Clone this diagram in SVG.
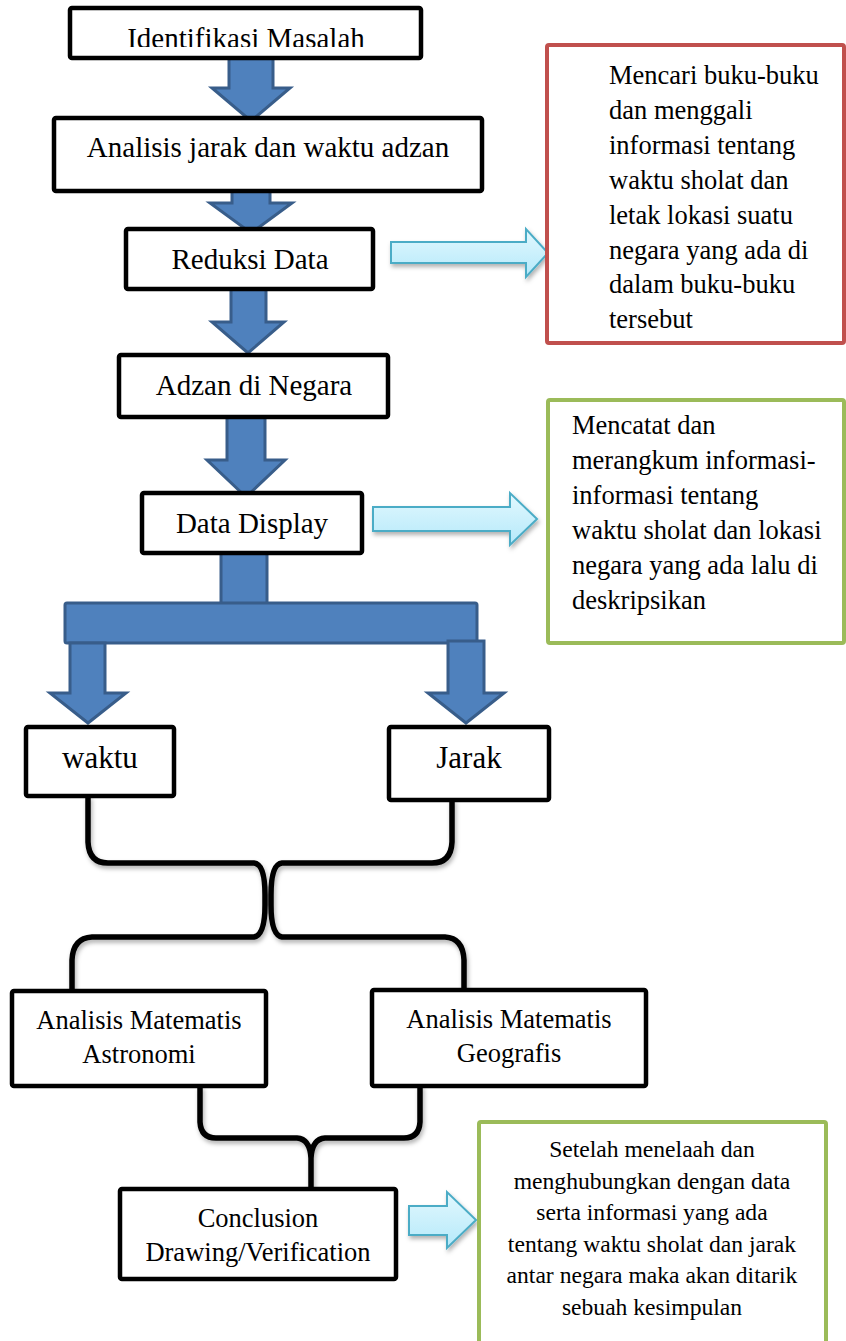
<svg xmlns="http://www.w3.org/2000/svg" width="846" height="1341" viewBox="0 0 846 1341">
<style>
text{font-family:"Liberation Serif","Times New Roman",serif;fill:#000}
.box{fill:#fff;stroke:#000;stroke-width:4.5}
.t29{font-size:29px;text-anchor:middle}
.t31{font-size:31px;text-anchor:middle}
.t26{font-size:26.5px;text-anchor:middle}
.n26{font-size:26.5px}
.t23{font-size:23.6px;text-anchor:middle}
.blk{fill:#4F81BD;stroke:#385D8A;stroke-width:3;stroke-linejoin:miter}
.lt{fill:url(#lg);stroke:#4BACC6;stroke-width:2;filter:url(#sh)}
.brace{fill:none;stroke:#000;stroke-width:5.5;stroke-linecap:round;stroke-linejoin:round;filter:url(#sh)}
</style>
<defs>
<linearGradient id="lg" x1="0" y1="0" x2="0" y2="1">
<stop offset="0" stop-color="#E2F8FE"/>
<stop offset="1" stop-color="#B5E9FA"/>
</linearGradient>
<filter id="sh" x="-20%" y="-20%" width="140%" height="150%">
<feDropShadow dx="1.5" dy="3" stdDeviation="2" flood-color="#000" flood-opacity="0.3"/>
</filter>
<clipPath id="c1"><rect x="70" y="8" width="352" height="39"/></clipPath>
</defs>
<rect width="846" height="1341" fill="#fff"/>

<g id="connectors">
<polygon class="blk" points="229,57 273,57 273,88 290,88 251,121 212,88 229,88"/>
<polygon class="blk" points="232,177 270,177 270,203 292,203 251,233 210,203 232,203"/>
<polygon class="blk" points="231,286 266,286 266,322 284,322 248,353 212,322 231,322"/>
<polygon class="blk" points="227,416 265,416 265,460 285,460 246,497 207,460 227,460"/>
<rect class="blk" x="221" y="552" width="46" height="52" rx="2"/>
<rect class="blk" x="65" y="603" width="412" height="40" rx="2"/>
<polygon class="blk" points="70,643 105,643 105,693 126,693 88,723 50,693 70,693"/>
<polygon class="blk" points="448,641 484,641 484,693 504,693 466,723 428,693 448,693"/>
<polygon class="lt" points="391,242 526,242 526,229 548,253 526,277 526,263 391,263"/>
<polygon class="lt" points="373,507 510,507 510,493 537,519 510,545 510,531 373,531"/>
<polygon class="lt" points="409,1206 447,1206 447,1192 476,1220 447,1248 447,1235 409,1235"/>
<path class="brace" d="M88,798 L88,842 Q89,863 108,863 L254,863 Q265,864 265,895 L265,905 Q265,935 254,937 L92,937 Q73,938 72,960 L72,990"/>
<path class="brace" d="M452,801 L452,842 Q451,863 432,863 L282,863 Q271,864 271,895 L271,905 Q271,935 282,937 L445,937 Q463,938 464,960 L464,989"/>
<path class="brace" d="M200,1088 L200,1122 Q201,1138 216,1138 L297,1138 Q310,1139 311,1158 L311,1188 M420,1087 L420,1122 Q419,1138 404,1138 L325,1138 Q312,1139 311,1158"/>
</g>

<g id="n1">
<rect class="box" x="70" y="8" width="351" height="50" rx="2"/>
<text class="t29" x="246" y="48" clip-path="url(#c1)">Identifikasi Masalah</text>
</g>
<g id="n2">
<rect class="box" x="54" y="118" width="428" height="73" rx="2"/>
<text class="t29" x="268" y="157">Analisis jarak dan waktu adzan</text>
</g>
<g id="n3">
<rect class="box" x="126" y="229" width="247" height="60" rx="2"/>
<text class="t29" x="250" y="269">Reduksi Data</text>
</g>
<g id="n4">
<rect class="box" x="119" y="355" width="269" height="62" rx="2"/>
<text class="t29" x="254" y="395">Adzan di Negara</text>
</g>
<g id="n5">
<rect class="box" x="142" y="493" width="220" height="60" rx="2"/>
<text class="t29" x="252" y="533">Data Display</text>
</g>
<g id="n6">
<rect x="547" y="45" width="297" height="298" fill="#fff" stroke="#C0504D" stroke-width="4" rx="2"/>
<text class="n26" x="609" y="84">Mencari buku-buku</text>
<text class="n26" x="609" y="119">dan menggali</text>
<text class="n26" x="609" y="154">informasi tentang</text>
<text class="n26" x="609" y="189">waktu sholat dan</text>
<text class="n26" x="609" y="224">letak lokasi suatu</text>
<text class="n26" x="609" y="258.5">negara yang ada di</text>
<text class="n26" x="609" y="293">dalam buku-buku</text>
<text class="n26" x="609" y="328">tersebut</text>
</g>
<g id="n7">
<rect x="548" y="400" width="296" height="243" fill="#fff" stroke="#9BBB59" stroke-width="4" rx="2"/>
<text class="n26" x="572" y="434">Mencatat dan</text>
<text class="n26" x="572" y="469">merangkum informasi-</text>
<text class="n26" x="572" y="504">informasi tentang</text>
<text class="n26" x="572" y="539">waktu sholat dan lokasi</text>
<text class="n26" x="572" y="574">negara yang ada lalu di</text>
<text class="n26" x="572" y="609">deskripsikan</text>
</g>
<g id="n8">
<rect class="box" x="26" y="727" width="148" height="69" rx="2"/>
<text class="t31" x="100" y="768">waktu</text>
</g>
<g id="n9">
<rect class="box" x="389" y="727" width="160" height="73" rx="2"/>
<text class="t31" x="469" y="768">Jarak</text>
</g>
<g id="n10">
<rect class="box" x="12" y="991" width="254" height="95" rx="2"/>
<text class="t26" x="139" y="1029">Analisis Matematis</text>
<text class="t26" x="139" y="1063">Astronomi</text>
</g>
<g id="n11">
<rect class="box" x="372" y="990" width="274" height="96" rx="2"/>
<text class="t26" x="509" y="1028">Analisis Matematis</text>
<text class="t26" x="509" y="1062">Geografis</text>
</g>
<g id="n12">
<rect class="box" x="120" y="1189" width="276" height="90" rx="2"/>
<text class="t26" x="258" y="1227">Conclusion</text>
<text class="t26" x="258" y="1261">Drawing/Verification</text>
</g>
<g id="n13">
<rect x="479" y="1122" width="347" height="232" fill="#fff" stroke="#9BBB59" stroke-width="4" rx="2"/>
<text class="t23" x="652" y="1157">Setelah menelaah dan</text>
<text class="t23" x="652" y="1188.5">menghubungkan dengan data</text>
<text class="t23" x="652" y="1220">serta informasi yang ada</text>
<text class="t23" x="652" y="1251.5">tentang waktu sholat dan jarak</text>
<text class="t23" x="652" y="1283">antar negara maka akan ditarik</text>
<text class="t23" x="652" y="1314.5">sebuah kesimpulan</text>
</g>
</svg>
